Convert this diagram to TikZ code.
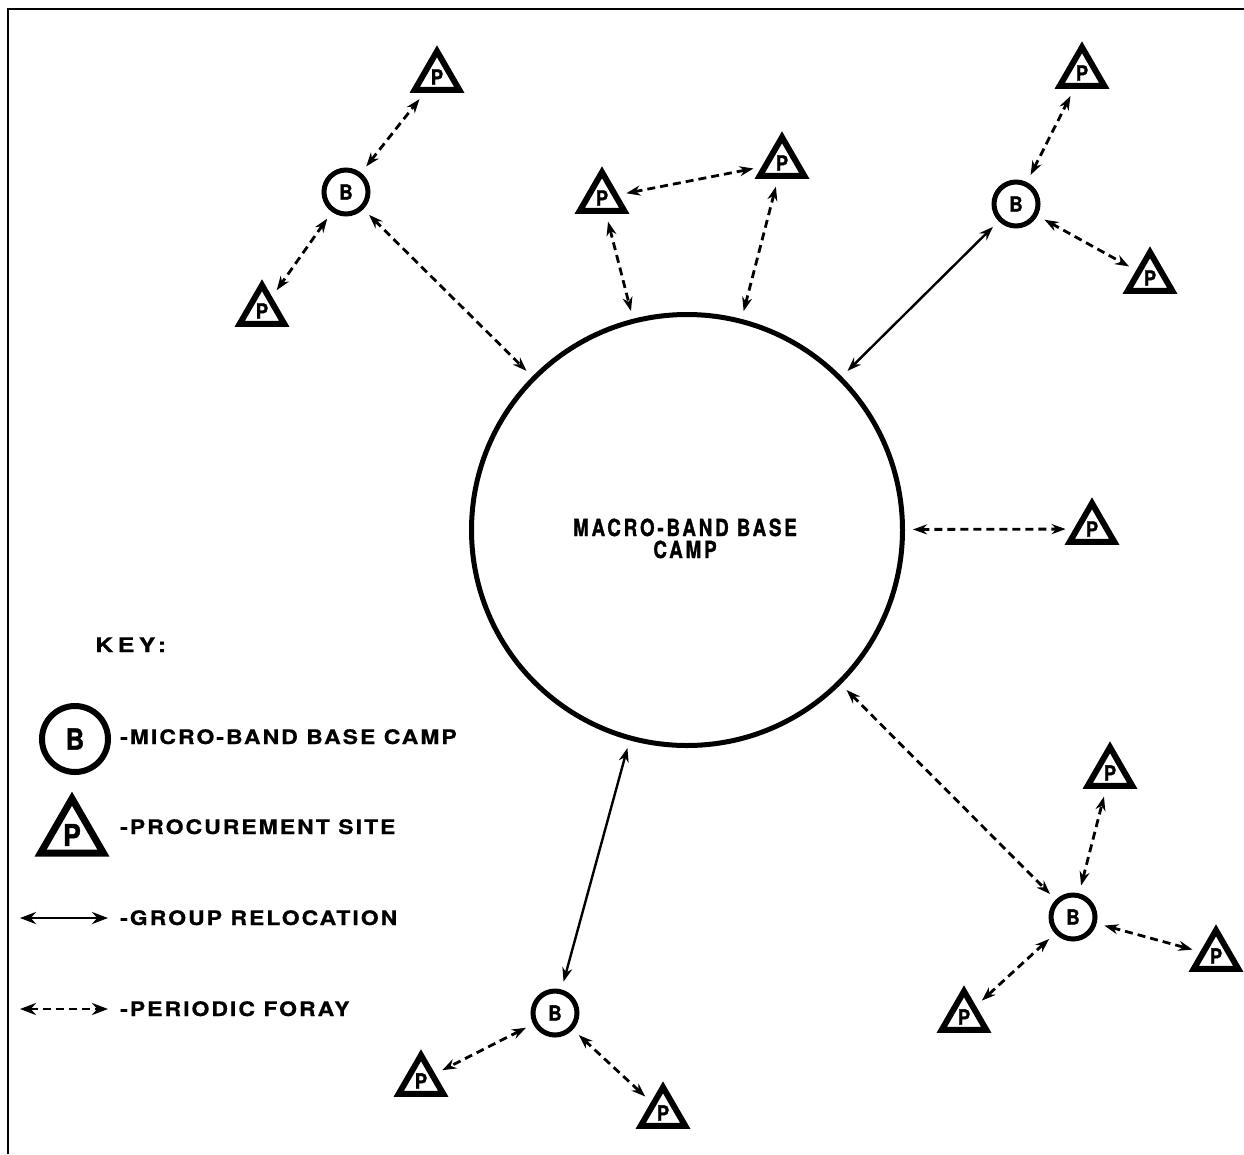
\documentclass[tikz,border=0pt]{standalone}
\usepackage{fontspec}
\setmainfont{TeX Gyre Heros}
\newfontfamily\keyfont[LetterSpace=10,FakeStretch=1.15,FakeBold=0.6]{TeX Gyre Heros}
\newfontfamily\keywide[LetterSpace=22,FakeStretch=1.25,FakeBold=0.6]{TeX Gyre Heros}
\newfontfamily\condfont[LetterSpace=12,FakeStretch=0.8,FakeBold=1.2]{TeX Gyre Heros}
\newfontfamily\letterfont[FakeStretch=0.88,FakeBold=1.4]{TeX Gyre Heros}
\usetikzlibrary{shapes.geometric,arrows.meta}
\begin{document}
\begin{tikzpicture}[x=1pt,y=-1pt,
  >={Stealth[length=14pt,width=10pt]},
  bcamp/.style={circle,draw,line width=5pt,minimum size=44pt,inner sep=0pt,
    font=\letterfont\bfseries\fontsize{21}{21}\selectfont},
  psite/.style={regular polygon,regular polygon sides=3,draw,line width=6pt,
    minimum size=51.4pt,inner sep=0pt,
    font=\letterfont\bfseries\fontsize{21}{21}\selectfont},
  relo/.style={<->,line width=2.4pt,shorten <=8pt,shorten >=8pt},
  foray/.style={<->,line width=2.8pt,dash pattern=on 8pt off 5pt,shorten <=8pt,shorten >=8pt},
  keytext/.style={anchor=base west,inner sep=0pt,font=\keyfont\bfseries\fontsize{20}{20}\selectfont},
  frameline/.style={line width=2.5pt}
]
\useasboundingbox (0,0) rectangle (1244,1154);
\draw[frameline] (8,1154) -- (8,9) -- (1244,9);

% macro band base camp
\node[circle,draw,line width=5pt,minimum size=431pt,inner sep=0pt] (macro) at (687,530) {};
\node[align=center,inner sep=0pt,anchor=base,font=\condfont\bfseries\fontsize{23.5}{22}\selectfont]
  (macrotext) at (685,558) {MACRO-BAND BASE\\CAMP};

% micro band base camps
\node[bcamp] (b1) at (346,192) {B};
\node[bcamp] (b2) at (1016,204) {B};
\node[bcamp] (b3) at (1073,917) {B};
\node[bcamp] (b4) at (555,1013) {B};

% procurement sites
\node[psite] (pa) at (437,77) {P};
\node[psite] (pb) at (262,311) {P};
\node[psite] (pc) at (602,198) {P};
\node[psite] (pd) at (782,163) {P};
\node[psite] (pe) at (1082,73) {P};
\node[psite] (pf) at (1150,278) {P};
\node[psite] (pg) at (1092,529) {P};
\node[psite] (ph) at (1110,773) {P};
\node[psite] (pi) at (1216,956) {P};
\node[psite] (pj) at (964,1017) {P};
\node[psite] (pk) at (421,1081) {P};
\node[psite] (pl) at (663,1113) {P};

% connectors
\draw[foray] (b1) -- (pa);
\draw[foray] (b1) -- (pb);
\draw[foray] (b1) -- (macro);
\draw[foray] (pc) -- (pd);
\draw[foray] (pc) -- (macro);
\draw[foray] (pd) -- (macro);
\draw[relo] (b2) -- (macro);
\draw[foray] (b2) -- (pe);
\draw[foray] (b2) -- (pf);
\draw[foray] (macro) -- (pg);
\draw[foray] (macro) -- (b3);
\draw[foray] (b3) -- (ph);
\draw[foray] (b3) -- (pi);
\draw[foray] (b3) -- (pj);
\draw[relo] (macro) -- (b4);
\draw[foray] (b4) -- (pk);
\draw[foray] (b4) -- (pl);

% key
\node[anchor=base west,inner sep=0pt,font=\keywide\bfseries\fontsize{20}{20}\selectfont] (keyhead) at (95,652) {KEY:};
\node[circle,draw,line width=6pt,minimum size=66pt,inner sep=0pt,
  font=\letterfont\bfseries\fontsize{29}{29}\selectfont] (kb) at (75,739) {B};
\node[keytext] (kbt) at (120,744) {-\hspace{2pt}MICRO-BAND BASE CAMP};
\node[regular polygon,regular polygon sides=3,draw,line width=7pt,minimum size=72.7pt,inner sep=0pt,
  font=\letterfont\bfseries\fontsize{30}{30}\selectfont] (kp) at (72,835) {P};
\node[keytext] (kpt) at (120,834) {-\hspace{2pt}PROCUREMENT SITE};
\coordinate (kr1) at (20,918);
\coordinate (kr2) at (108,918);
\draw[<->,line width=2.6pt,>={Stealth[length=16pt,width=12pt]}] (kr1) -- (kr2);
\node[keytext] (krt) at (120,925) {-\hspace{2pt}GROUP RELOCATION};
\coordinate (kf1) at (20,1009);
\coordinate (kf2) at (108,1009);
\draw[<->,line width=2.8pt,dash pattern=on 8pt off 5pt,>={Stealth[length=16pt,width=12pt]}] (kf1) -- (kf2);
\node[keytext] (kft) at (120,1016) {-\hspace{2pt}PERIODIC FORAY};
\end{tikzpicture}
\end{document}
